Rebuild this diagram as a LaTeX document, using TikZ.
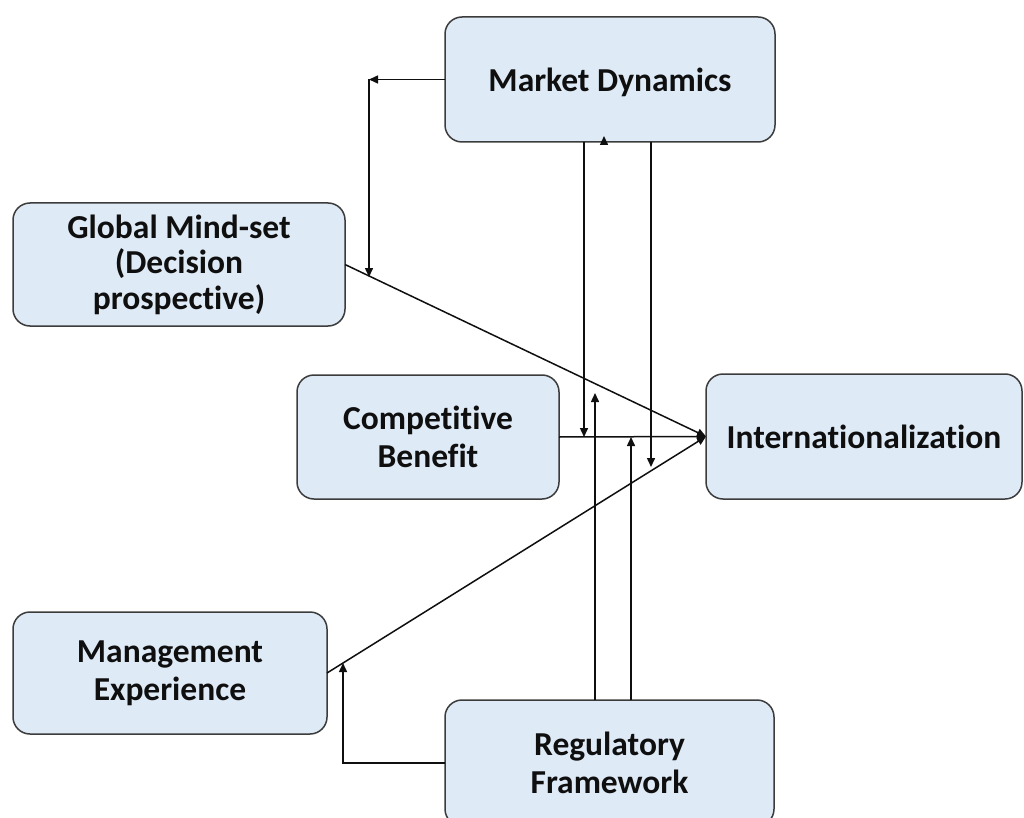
\documentclass[tikz,border=0pt]{standalone}
\usepackage{fontspec}
\setmainfont{Carlito}[Ligatures=NoCommon]
\usetikzlibrary{arrows.meta}
\definecolor{boxfill}{RGB}{222,234,246}
\definecolor{boxline}{RGB}{60,60,60}
\definecolor{ink}{RGB}{15,15,15}

\begin{document}
\begin{tikzpicture}[x=1pt,y=-1pt,
  box/.style={draw=boxline, fill=boxfill, line width=1.5pt, rounded corners=17pt,
    inner sep=0pt, outer sep=0pt, align=center, text=ink,
    font=\fontsize{33.5}{38}\selectfont\bfseries},
  arr/.style={draw=ink, line width=1.5pt, -{Triangle[length=9pt,width=8pt]}},
  link/.style={draw=ink, line width=1.5pt}]
\useasboundingbox (0,0) rectangle (1024,818);
\clip (0,0) rectangle (1024,818);

% factor boxes
\node[box, minimum width=330pt, minimum height=125pt, text depth=0pt] (MD) at (610,79.5) {Market Dynamics};
\node[box, minimum width=332pt, minimum height=123pt,
      font=\fontsize{33.5}{35.5}\selectfont\bfseries] (GM) at (179,264.5)
      {Global Mind-set\\(Decision\\prospective)};
\node[box, minimum width=262pt, minimum height=124pt] (CB) at (428,437) {Competitive\\Benefit};
\node[box, minimum width=316pt, minimum height=125pt] (IN) at (864,436.5) {Internationalization};
\node[box, minimum width=314pt, minimum height=122pt] (ME) at (170,673) {Management\\Experience};
\node[box, minimum width=329pt, minimum height=126pt] (RF) at (609.5,763) {Regulatory\\Framework};

% free ends of the connectors
\coordinate (mdturn) at (369,79.5);
\coordinate (gmtip)  at (369,277);
\coordinate (mdAtip) at (584,437);
\coordinate (mdBtip) at (651,467);
\coordinate (rfAtip) at (595,393);
\coordinate (rfBtip) at (631,437);
\coordinate (metip)  at (343,663);
\coordinate (tickA)  at (604,144);
\coordinate (tickB)  at (604,136);

% main paths into internationalization
\draw[arr] (GM.east) -- (IN.west);
\draw[arr] (CB.east) -- (IN.west);
\draw[arr] (ME.east) -- (IN.west);

% market dynamics influences
\draw[arr] (MD.west) -- (mdturn);
\draw[arr] (mdturn) -- (gmtip);
\draw[arr] (MD.south -| mdAtip) -- (mdAtip);
\draw[arr] (MD.south -| mdBtip) -- (mdBtip);
\draw[arr] (tickA) -- (tickB);

% regulatory framework influences
\draw[arr] (RF.north -| rfAtip) -- (rfAtip);
\draw[arr] (RF.north -| rfBtip) -- (rfBtip);
\draw[arr] (RF.west) -| (metip);
\end{tikzpicture}
\end{document}
